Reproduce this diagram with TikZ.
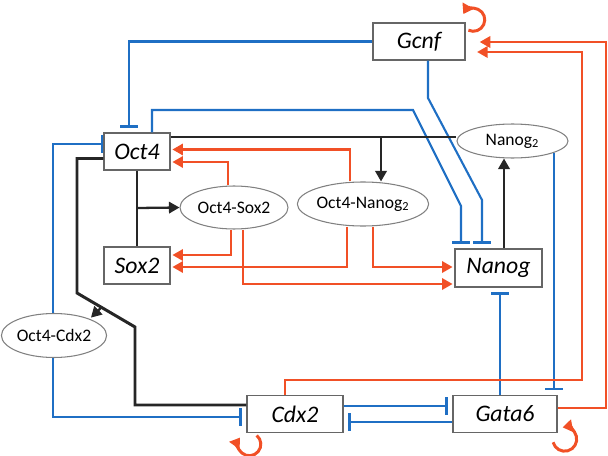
\documentclass[tikz,border=0pt]{standalone}
\usepackage{fontspec}
\setmainfont{Carlito}
\usetikzlibrary{arrows.meta,shapes.geometric}
\definecolor{inhblue}{RGB}{31,111,196}
\definecolor{actred}{RGB}{241,80,38}
\tikzset{
  gene/.style={draw=black!60, line width=0.8pt, fill=white, minimum height=0.74cm, inner sep=0pt, font=\fontsize{13.5}{16}\selectfont\itshape},
  cplx/.style={ellipse, draw=black!50, line width=0.6pt, fill=white, inner sep=0pt, font=\fontsize{10}{12}\selectfont},
  inh/.style={inhblue, line width=1.2pt, -{Bar[width=10pt,line width=1.5pt]}, shorten >=2.5pt},
  act/.style={actred, line width=1.2pt, -{Triangle[length=6pt,width=6.5pt]}, shorten >=1pt},
  bnd/.style={black!85, line width=1.3pt},
  selfloop/.style={actred, line width=1.7pt, -{Triangle[length=5.5pt,width=7pt]}},
}
\begin{document}
\begin{tikzpicture}[x=0.02cm, y=-0.02cm]
\useasboundingbox (0,0) rectangle (608,456);
% genes
\node[gene, minimum width=1.84cm] (gcnf) at (419,41.5) {Gcnf};
\node[gene, minimum width=1.32cm] (oct4) at (137,151.5) {Oct4};
\node[gene, minimum width=1.32cm] (sox2) at (137,265.5) {Sox2};
\node[gene, minimum width=1.74cm, minimum height=0.76cm] (nanog) at (498.5,268) {Nanog};
\node[gene, minimum width=1.92cm] (cdx2) at (295,414) {Cdx2};
\node[gene, minimum width=2.08cm] (gata6) at (505,414) {Gata6};
% complexes
\node[cplx, minimum width=2.16cm, minimum height=0.86cm] (os) at (234,207.5) {Oct4-Sox2};
\node[cplx, minimum width=2.24cm, minimum height=0.88cm] (on) at (363,204) {Oct4-Nanog\textsubscript{2}};
\node[cplx, minimum width=2.22cm, minimum height=0.68cm] (n2) at (512.5,141) {Nanog\textsubscript{2}};
\node[cplx, minimum width=2cm, minimum height=0.88cm] (oc) at (54,335.5) {Oct4-Cdx2};

% inhibition
\draw[inh] (gcnf.west) -| (oct4.north -| 129,0);
\draw[inh] (oct4.north -| 152,0) |- (413,110) -- (461,206) -- (nanog.north -| 461,0);
\draw[inh] (gcnf.south -| 428,0) -- (428,98) -- (482,200) -- (nanog.north -| 482,0);
\draw[inh, shorten >=0pt] (oc.north -| 53,0) |- (oct4.west |- 0,144);
\draw[inh] (oc.south -| 53,0) |- (cdx2.west |- 0,417);
\draw[inh] (cdx2.east |- 0,406) -- (gata6.west |- 0,406);
\draw[inh] (gata6.west |- 0,422) -- (cdx2.east |- 0,422);
\draw[inh] (gata6.north -| 500,0) -- (nanog.south -| 500,0);
\draw[inh] (n2.-16) -- (n2.-16 |- gata6.north);

% activation
\draw[act] (on.north -| 350,0) |- (oct4.east |- 0,149.5);
\draw[act] (os.north -| 228,0) |- (oct4.east |- 0,162);
\draw[act] (os.south -| 231,0) |- (sox2.east |- 0,255);
\draw[act] (on.south -| 347,0) |- (sox2.east |- 0,267);
\draw[act] (os.south -| 243,0) |- (nanog.west |- 0,284);
\draw[act] (on.south -| 373,0) |- (nanog.west |- 0,267);
\draw[act, shorten >=6.5pt] (cdx2.north -| 285,0) |- (582,380) |- (gcnf.east |- 0,52);
\draw[act, shorten >=8pt] (gata6.east |- 0,408) -| (606,42) -- (gcnf.east |- 0,42);

% binding
\draw[bnd] (oct4.east |- 0,137) -- (n2.west |- 0,137);
\draw[bnd, -{Triangle[length=6pt,width=6.5pt]}] (381,137) -- (on.north -| 381,0);
\draw[bnd] (oct4.south) -- (sox2.north);
\draw[bnd, -{Triangle[length=6pt,width=6.5pt]}] (oct4.south |- 0,208) -- (os.west);
\draw[bnd, -{Triangle[length=6pt,width=6.5pt]}] (nanog.north -| 504,0) -- (n2.south -| 504,0);
\draw[bnd, line width=1.7pt] (oct4.west |- 0,158.5) -| (77,293) -- (135,327) |- (cdx2.west |- 0,405);
\coordinate (br) at (101.7,307);
\draw[bnd, -{Triangle[length=6pt,width=6.5pt]}, shorten >=1pt] (br) -- (oc.25);

% self loops
\draw[selfloop] ([shift={(2.7,7.9)}]gcnf.north east) arc[start angle=115, end angle=-150, radius=11.5];
\draw[selfloop] ([shift={(10.4,2.2)}]cdx2.south west) arc[start angle=-50, end angle=215, radius=11.5];
\draw[selfloop] ([shift={(-4.6,9.1)}]gata6.south east) arc[start angle=165, end angle=-100, radius=12];
\end{tikzpicture}
\end{document}
